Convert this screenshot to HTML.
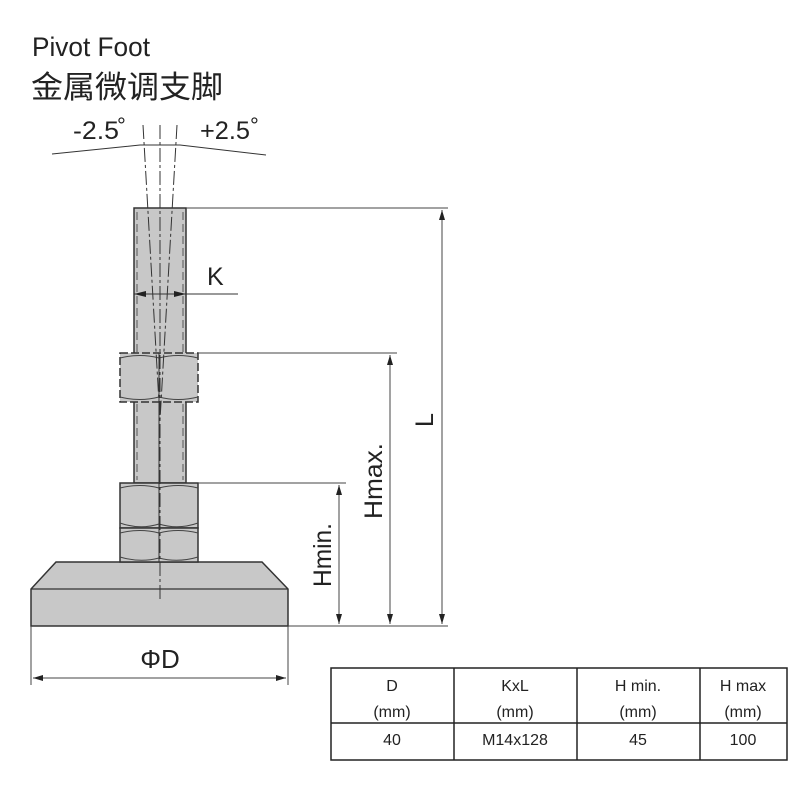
<!DOCTYPE html>
<html><head><meta charset="utf-8"><style>
html,body{margin:0;padding:0;background:#fff;}
svg{display:block;}
text{font-family:"Liberation Sans","Noto Sans CJK SC",sans-serif;fill:#222;}
</style></head><body>
<svg width="800" height="800" viewBox="0 0 800 800" xmlns="http://www.w3.org/2000/svg">
<defs>
<marker id="ar" viewBox="0 0 10 10" refX="10" refY="5" markerWidth="10" markerHeight="10" orient="auto-start-reverse"><path d="M0,2 L10,5 L0,8 z" fill="#222"/></marker>
</defs>
<text x="32" y="56" font-size="27" textLength="118" lengthAdjust="spacingAndGlyphs">Pivot Foot</text>
<text x="31" y="98" font-size="31" textLength="192" lengthAdjust="spacingAndGlyphs">金属微调支脚</text>
<text x="73" y="139" font-size="25" textLength="46" lengthAdjust="spacingAndGlyphs">-2.5</text>
<text x="117" y="133" font-size="22">°</text>
<text x="200" y="139" font-size="25" textLength="50" lengthAdjust="spacingAndGlyphs">+2.5</text>
<text x="250" y="133" font-size="22">°</text>
<path d="M52,154 L140,145 L180,145 L266,155" fill="none" stroke="#333" stroke-width="1"/>
<!-- base -->
<path d="M56,562 L262,562 L288,589 L288,626 L31,626 L31,589 Z" fill="#c8c8c8" stroke="#333" stroke-width="1.5"/>
<line x1="31" y1="589" x2="288" y2="589" stroke="#333" stroke-width="1.2"/>
<!-- rod -->
<rect x="134" y="208" width="52" height="275" fill="#c8c8c8" stroke="#333" stroke-width="1.5"/>
<line x1="137" y1="212" x2="137" y2="480" stroke="#555" stroke-dasharray="8,4"/>
<line x1="183" y1="212" x2="183" y2="480" stroke="#555" stroke-dasharray="8,4"/>
<!-- upper nut -->
<rect x="120" y="353" width="78" height="49" fill="#c8c8c8" stroke="#333" stroke-width="1.5" stroke-dasharray="8,3"/>
<path d="M120,358 Q140,353 159,358 Q178,353 198,358 M120,397 Q140,402 159,397 Q178,402 198,397" fill="none" stroke="#444"/>
<!-- lower nuts -->
<rect x="120" y="483" width="78" height="45" fill="#c8c8c8" stroke="#333" stroke-width="1.5"/>
<rect x="120" y="528" width="78" height="34" fill="#c8c8c8" stroke="#333" stroke-width="1.5"/>
<path d="M120,488 Q140,483 159,488 Q178,483 198,488 M120,523 Q140,530 159,524 Q178,530 198,523 M120,533 Q140,528 159,533 Q178,528 198,533 M120,557 Q140,563 159,558 Q178,563 198,557" fill="none" stroke="#444"/>
<line x1="159" y1="353" x2="159" y2="562" stroke="#333" stroke-width="1"/>
<!-- centre / tilt lines -->
<line x1="160" y1="125" x2="160" y2="600" stroke="#333" stroke-width="1" stroke-dasharray="14,3,3,3"/>
<line x1="143" y1="125" x2="160" y2="420" stroke="#333" stroke-width="1" stroke-dasharray="14,3,3,3"/>
<line x1="177" y1="125" x2="160" y2="420" stroke="#333" stroke-width="1" stroke-dasharray="14,3,3,3"/>
<!-- K -->
<line x1="134" y1="294" x2="238" y2="294" stroke="#333" stroke-width="1"/>
<path d="M134,294 L146,291 L146,297 Z M186,294 L174,291 L174,297 Z" fill="#222"/>
<text x="207" y="285" font-size="25">K</text>
<!-- extension lines -->
<line x1="186" y1="208" x2="448" y2="208" stroke="#444"/>
<line x1="198" y1="353" x2="397" y2="353" stroke="#444"/>
<line x1="198" y1="483" x2="346" y2="483" stroke="#444"/>
<line x1="288" y1="626" x2="448" y2="626" stroke="#444"/>
<line x1="442" y1="210" x2="442" y2="624" stroke="#444" marker-start="url(#ar)" marker-end="url(#ar)"/>
<line x1="390" y1="355" x2="390" y2="624" stroke="#444" marker-start="url(#ar)" marker-end="url(#ar)"/>
<line x1="339" y1="485" x2="339" y2="624" stroke="#444" marker-start="url(#ar)" marker-end="url(#ar)"/>
<text transform="translate(433,420) rotate(-90)" font-size="25" text-anchor="middle">L</text>
<text transform="translate(382,481) rotate(-90)" font-size="25" text-anchor="middle" textLength="76" lengthAdjust="spacingAndGlyphs">Hmax.</text>
<text transform="translate(331,555) rotate(-90)" font-size="25" text-anchor="middle" textLength="64" lengthAdjust="spacingAndGlyphs">Hmin.</text>
<!-- D -->
<line x1="31" y1="626" x2="31" y2="685" stroke="#444"/>
<line x1="288" y1="626" x2="288" y2="685" stroke="#444"/>
<line x1="33" y1="678" x2="286" y2="678" stroke="#444" marker-start="url(#ar)" marker-end="url(#ar)"/>
<text x="160" y="668" font-size="26" text-anchor="middle">ΦD</text>
<!-- table -->
<g stroke="#222" stroke-width="1.5" fill="none">
<rect x="331" y="668" width="456" height="92"/>
<line x1="331" y1="723" x2="787" y2="723"/>
<line x1="454" y1="668" x2="454" y2="760"/>
<line x1="577" y1="668" x2="577" y2="760"/>
<line x1="700" y1="668" x2="700" y2="760"/>
</g>
<g font-size="16" text-anchor="middle">
<text x="392" y="691">D</text><text x="392" y="717">(mm)</text><text x="392" y="745">40</text>
<text x="515" y="691">KxL</text><text x="515" y="717">(mm)</text><text x="515" y="745">M14x128</text>
<text x="638" y="691">H min.</text><text x="638" y="717">(mm)</text><text x="638" y="745">45</text>
<text x="743" y="691">H max</text><text x="743" y="717">(mm)</text><text x="743" y="745">100</text>
</g>
</svg>
</body></html>
